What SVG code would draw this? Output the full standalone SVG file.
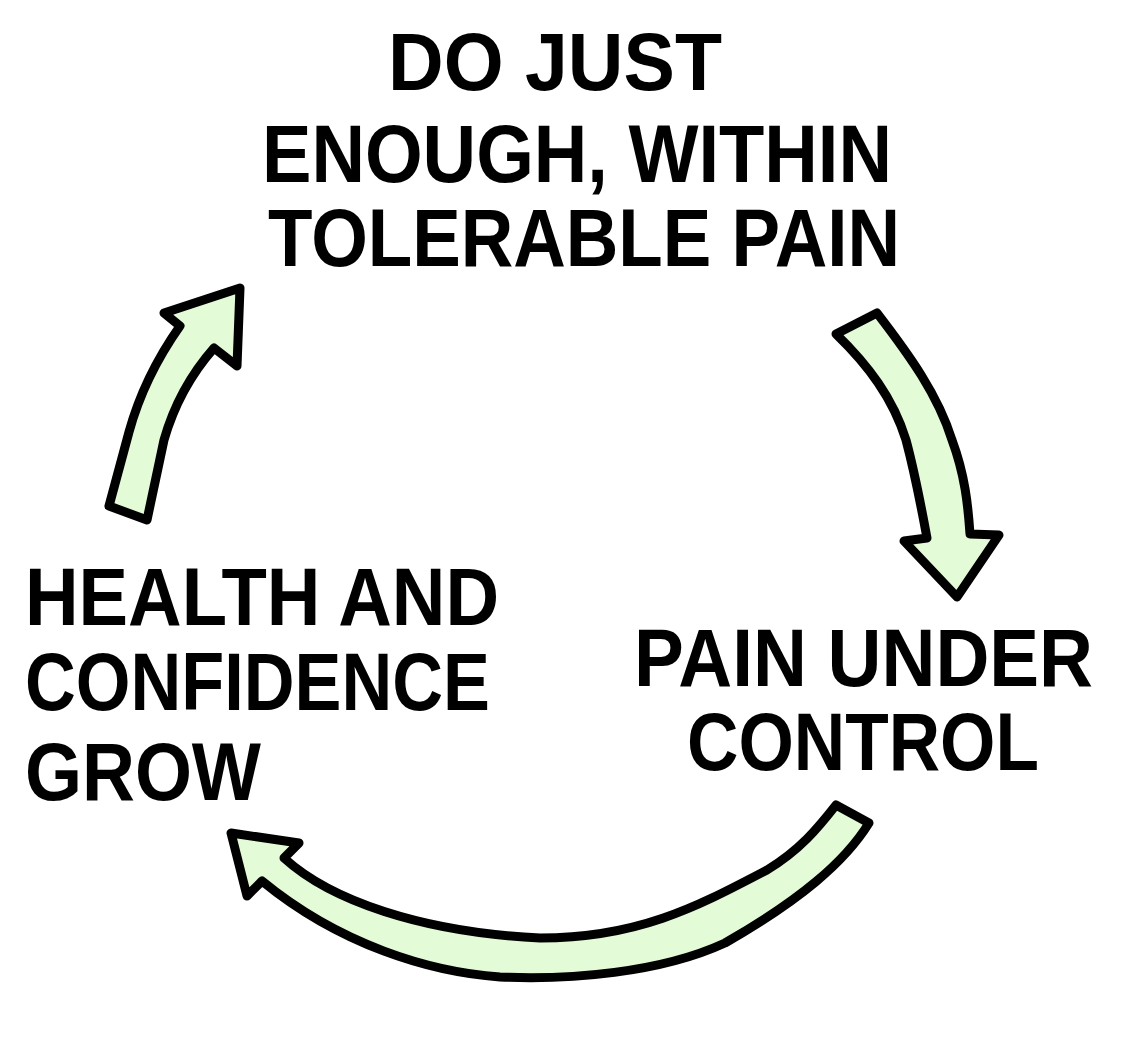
<svg xmlns="http://www.w3.org/2000/svg" width="1122" height="1046" viewBox="0 0 1122 1046">
<style>
.lbl{font-family:"Liberation Sans","DejaVu Sans",sans-serif;font-weight:bold;font-size:82px;fill:#000}
.arrow{fill:#e3fbd6;stroke:#000;stroke-width:9;stroke-linejoin:round;stroke-linecap:round}
</style>
<rect width="1122" height="1046" fill="#fff"/>
<g id="node-top">
<text class="lbl" x="388" y="90" textLength="334" lengthAdjust="spacingAndGlyphs">DO JUST</text>
<text class="lbl" x="262" y="182" textLength="630" lengthAdjust="spacingAndGlyphs">ENOUGH, WITHIN</text>
<text class="lbl" x="268" y="266" textLength="632" lengthAdjust="spacingAndGlyphs">TOLERABLE PAIN</text>
</g>
<g id="node-right">
<text class="lbl" transform="translate(634,686) scale(1,1.11)" x="0" y="0" style="font-size:74px" textLength="459" lengthAdjust="spacingAndGlyphs">PAIN UNDER</text>
<text class="lbl" x="687" y="770" textLength="352" lengthAdjust="spacingAndGlyphs">CONTROL</text>
</g>
<g id="node-left">
<text class="lbl" x="25" y="625" textLength="474" lengthAdjust="spacingAndGlyphs">HEALTH AND</text>
<text class="lbl" x="25" y="710" textLength="465" lengthAdjust="spacingAndGlyphs">CONFIDENCE</text>
<text class="lbl" x="25" y="800" textLength="236" lengthAdjust="spacingAndGlyphs">GROW</text>
</g>
<g id="connectors">
<path class="arrow" d="M240,288 L237,366 L214,348 C192,373 174,405 164,440 L147,520 L109,506 L129,432 C140,392 156,360 180,326 L164,313 Z"/>
<path class="arrow" d="M836,334 L877,313 C910,356 938,395 952,440 C965,475 968,505 970,534 L999,535 L957,597 L904,541 L927,538 C920,500 914,470 906,440 C893,398 868,365 836,334 Z"/>
<path class="arrow" d="M231,833 L299,843 L284,858 C330,900 420,932 540,938 C640,938 700,905 767,870 C800,850 818,828 836,805 L869,823 C845,862 800,900 725,943 C660,973 570,980 500,977 C430,972 340,945 262,881 L247,896 Z"/>
</g>
</svg>
